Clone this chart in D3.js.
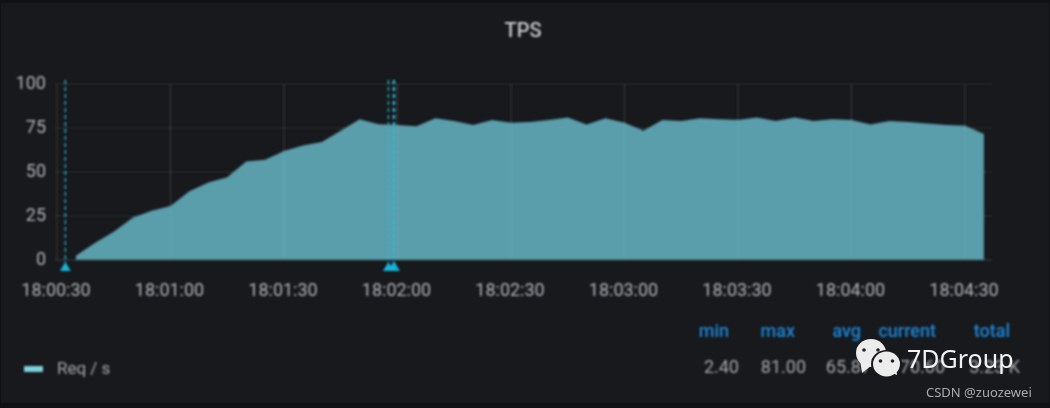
<!DOCTYPE html>
<html><head><meta charset="utf-8"><script src="https://cdn.jsdelivr.net/npm/d3@7"></script>
<style>html,body{margin:0;padding:0;background:#141619;overflow:hidden}svg{display:block}</style></head>
<body><svg id="c" width="1050" height="408"></svg>
<script>
const startSeconds = 35, stepSeconds = 5;
const tps = [2.4,9.6,16,24,28,30.7,39,44,47,56,57,62,65,67,73.5,80,77.2,76.7,76,80.5,79,76.7,79.5,78,78.4,79.5,81,77,80.5,78,73.5,79.5,79,80.5,80,79.5,81,79,81,79,80,79.5,77,79,78.4,77.6,76.7,76.3,71.6];
const xTickSeconds = [30,60,90,120,150,180,210,240,270];
const xTickLabels = ["18:00:30","18:01:00","18:01:30","18:02:00","18:02:30","18:03:00","18:03:30","18:04:00","18:04:30"];
const yTicks = [0,25,50,75,100];
const annotations = [32.2,117.6,118.9,119.2];
const legendHeads = ["min","max","avg","current","total"];
const legendValues = ["2.40","81.00","65.87","70.60","3.23 K"];
const legendName = "Req / s";

const svg = d3.select("#c");
const defs = svg.append("defs");
defs.append("filter").attr("id","b").attr("x","-5%").attr("y","-5%").attr("width","110%").attr("height","110%")
  .append("feGaussianBlur").attr("stdDeviation",0.9);
svg.append("rect").attr("width",1050).attr("height",408).attr("fill","#101114");
svg.append("rect").attr("x",1).attr("y",3).attr("width",1048).attr("height",400).attr("fill","#17191d");

const x = d3.scaleLinear().domain([30,270]).range([57,965]);
const y = d3.scaleLinear().domain([0,100]).range([260,84]);
const g = svg.append("g").attr("filter","url(#b)").style("font-family","Roboto, sans-serif");
const grid = "#2e3034";
g.selectAll(".gx").data(xTickSeconds).join("line").attr("x1",d=>x(d)).attr("x2",d=>x(d)).attr("y1",84).attr("y2",260).attr("stroke",grid);
g.selectAll(".gy").data(yTicks).join("line").attr("x1",55).attr("x2",992).attr("y1",d=>y(d)).attr("y2",d=>y(d)).attr("stroke",grid);

const pts = tps.map((v,i)=>[startSeconds+i*stepSeconds,v]);
g.append("path").attr("d",d3.area().x(d=>x(d[0])).y0(y(0)).y1(d=>y(d[1]))(pts)).attr("fill","#5a9eac");
g.selectAll(".gx2").data(xTickSeconds).join("line").attr("x1",d=>x(d)).attr("x2",d=>x(d)).attr("y1",84).attr("y2",260).attr("stroke","#fff").attr("stroke-opacity",0.06);
g.append("line").attr("x1",55).attr("x2",992).attr("y1",y(0)).attr("y2",y(0)).attr("stroke","#33383c");

const axX = d3.axisBottom(x).tickValues(xTickSeconds).tickFormat((d,i)=>xTickLabels[i]).tickSize(0).tickPadding(0);
const ax = g.append("g").attr("transform","translate(-1.5,290)").call(axX);
ax.select(".domain").remove();
ax.selectAll("text").attr("fill","#b0b3b7").attr("font-size",18).attr("y",0).attr("dy","0.35em").style("font-family","Roboto, sans-serif");
const axY = d3.axisLeft(y).tickValues(yTicks).tickSize(0).tickPadding(0);
const ay = g.append("g").attr("transform","translate(46,-1)").call(axY);
ay.select(".domain").remove();
ay.selectAll("text").attr("fill","#b0b3b7").attr("font-size",18).style("font-family","Roboto, sans-serif");

g.selectAll(".an").data(annotations).join("line").attr("x1",d=>x(d)).attr("x2",d=>x(d)).attr("y1",80).attr("y2",263)
  .attr("stroke","#2fb6cf").attr("stroke-width",1.3).attr("stroke-dasharray","4 3");
g.selectAll(".tri").data(annotations).join("path").attr("transform",d=>`translate(${x(d)},264)`).attr("d","M-5.5,7L0,-2L5.5,7Z").attr("fill","#18b4dc");

g.append("text").attr("x",523).attr("y",30).attr("dy","0.35em").attr("text-anchor","middle").attr("fill","#c6c8cb").attr("font-size",20).attr("font-weight",500).text("TPS");

const colRight = [729,795,861,936,1010];
const valRight = [739,806,871,945,1020];
g.selectAll(".lh").data(legendHeads).join("text").attr("x",(d,i)=>colRight[i]).attr("y",331).attr("dy","0.35em").attr("text-anchor","end").attr("fill","#1f86d8").attr("font-size",18).attr("font-weight",500).text(d=>d);
g.selectAll(".lv").data(legendValues).join("text").attr("x",(d,i)=>valRight[i]).attr("y",367).attr("dy","0.35em").attr("text-anchor","end").attr("fill","#a5a8ac").attr("font-size",18).text(d=>d);
g.append("rect").attr("x",24).attr("y",366).attr("width",19).attr("height",6).attr("rx",1).attr("fill","#7ed3e0");
g.append("text").attr("x",57).attr("y",368).attr("dy","0.35em").attr("fill","#a5a8ac").attr("font-size",17).text(legendName);

const w = svg.append("g");
function bubble(cx,cy,rx,ry,tail,eye){
  w.append("ellipse").attr("cx",cx).attr("cy",cy).attr("rx",rx).attr("ry",ry).attr("fill","#ececec");
  w.append("path").attr("d",tail).attr("fill","#ececec");
  [-eye,eye].forEach(e=>w.append("circle").attr("cx",cx+e).attr("cy",cy-3).attr("r",1.8).attr("fill","#222"));
}
bubble(871,353,15,14,"M860,360L862,373L872,365Z",7);
w.append("ellipse").attr("cx",886.5).attr("cy",364).attr("rx",15.5).attr("ry",14).attr("fill","#17191d");
bubble(886.5,364,13.5,12.5,"M890,372L897,375L896,366Z",6);
w.append("text").attr("x",907).attr("y",359).attr("dy","0.35em").attr("fill","#f2f2f2").attr("font-size",25).style("font-family","'Noto Sans', sans-serif").text("7DGroup");
w.append("text").attr("x",926).attr("y",392).attr("dy","0.35em").attr("fill","#a9aaac").attr("font-size",13).style("font-family","'Noto Sans', sans-serif").text("CSDN @zuozewei");
</script></body></html>
